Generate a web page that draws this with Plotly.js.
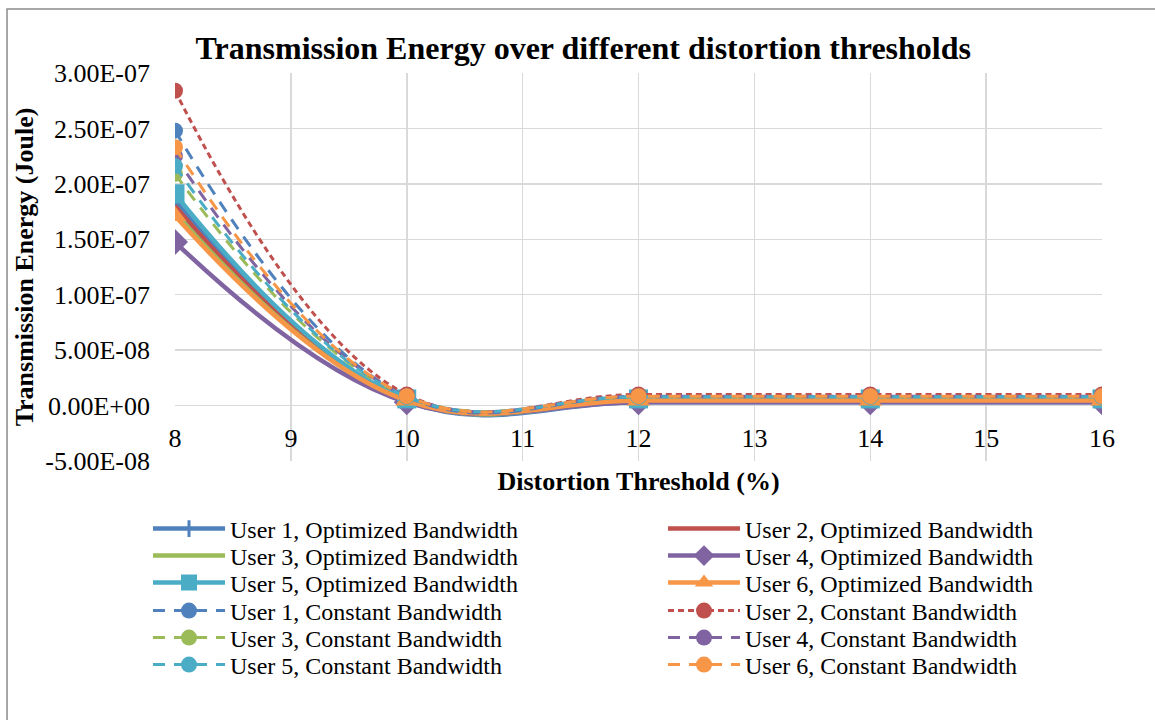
<!DOCTYPE html>
<html>
<head>
<meta charset="utf-8">
<script src="https://cdn.plot.ly/plotly-3.0.1.min.js"></script>
<style>
html,body{margin:0;padding:0;background:#fff;}
#chart{width:1155px;height:720px;}
</style>
</head>
<body>
<div id="chart"></div>
<script>
const thresholds = [8, 10, 12, 14, 16];

const user1Opt = [1.85e-7, 4.0e-9, 3.0e-9, 3.0e-9, 3.0e-9];
const user2Opt = [1.80e-7, 5.0e-9, 5.0e-9, 5.0e-9, 5.0e-9];
const user3Opt = [1.74e-7, 4.0e-9, 4.0e-9, 4.0e-9, 4.0e-9];
const user4Opt = [1.475e-7, 3.0e-9, 3.0e-9, 3.0e-9, 3.0e-9];
const user5Opt = [1.91e-7, 6.0e-9, 6.0e-9, 6.0e-9, 6.0e-9];
const user6Opt = [1.71e-7, 4.5e-9, 4.5e-9, 4.5e-9, 4.5e-9];

const user1Const = [2.48e-7, 8.0e-9, 8.0e-9, 8.0e-9, 8.0e-9];
const user2Const = [2.84e-7, 1.0e-8, 1.0e-8, 1.0e-8, 1.0e-8];
const user3Const = [2.09e-7, 8.0e-9, 8.0e-9, 8.0e-9, 8.0e-9];
const user4Const = [2.25e-7, 8.5e-9, 8.5e-9, 8.5e-9, 8.5e-9];
const user5Const = [2.16e-7, 8.0e-9, 8.0e-9, 8.0e-9, 8.0e-9];
const user6Const = [2.33e-7, 8.5e-9, 8.5e-9, 8.5e-9, 8.5e-9];

const yTickVals = [-5e-8, 0, 5e-8, 1e-7, 1.5e-7, 2e-7, 2.5e-7, 3e-7];
const yTickText = ["-5.00E-08","0.00E+00","5.00E-08","1.00E-07","1.50E-07","2.00E-07","2.50E-07","3.00E-07"];
const xTickVals = [8, 9, 10, 11, 12, 13, 14, 15, 16];
const xTickText = ['8','9','10','11','12','13','14','15','16'];

const C = {
  blue:'#4F81BD', red:'#C0504D', green:'#9BBB59',
  purple:'#8064A2', aqua:'#4BACC6', orange:'#F79646'
};

const SMOOTH = 1.15;

function opt(name, y, color, symbol, size, legend, lw) {
  const t = {
    x: thresholds, y: y, name: name, type:'scatter', legend: legend, legendwidth: lw,
    mode: symbol ? 'lines+markers' : 'lines',
    line:{color:color, width:4.5, shape:'spline', smoothing:SMOOTH}
  };
  if (symbol) {
    t.marker = {symbol:symbol, size:size, color:color, line:{color:color, width: symbol.indexOf('line')===0 ? 3 : 0}};
  }
  return t;
}
function cst(name, y, color, dash, legend, lw) {
  return {
    x: thresholds, y: y, name: name, type:'scatter', mode:'lines+markers', legend: legend, legendwidth: lw,
    line:{color:color, width:3, dash:dash, shape:'spline', smoothing:SMOOTH},
    marker:{symbol:'circle', size:16, color:color}
  };
}

const LW = 428, RW = 300;
const traces = [
  opt('User 1, Optimized Bandwidth', user1Opt, C.blue, 'line-ns', 12, 'legend', LW),
  opt('User 2, Optimized Bandwidth', user2Opt, C.red, null, 0, 'legend', RW),
  opt('User 3, Optimized Bandwidth', user3Opt, C.green, null, 0, 'legend2', LW),
  opt('User 4, Optimized Bandwidth', user4Opt, C.purple, 'diamond', 20, 'legend2', RW),
  opt('User 5, Optimized Bandwidth', user5Opt, C.aqua, 'square', 19, 'legend3', LW),
  opt('User 6, Optimized Bandwidth', user6Opt, C.orange, 'triangle-up', 20, 'legend3', RW),
  cst('User 1, Constant Bandwidth', user1Const, C.blue, '12px,9px', 'legend4', LW),
  cst('User 2, Constant Bandwidth', user2Const, C.red, '6px,4px', 'legend4', RW),
  cst('User 3, Constant Bandwidth', user3Const, C.green, '12px,9px', 'legend5', LW),
  cst('User 4, Constant Bandwidth', user4Const, C.purple, '12px,9px', 'legend5', RW),
  cst('User 5, Constant Bandwidth', user5Const, C.aqua, '12px,9px', 'legend6', LW),
  cst('User 6, Constant Bandwidth', user6Const, C.orange, '12px,9px', 'legend6', RW)
];

const serif = 'Liberation Serif, Times New Roman, serif';

// plot area in px: left 175, right 1102, top 73, bottom 461
const rowPx = [529, 556, 583, 611, 638, 665];
function legendAt(py) {
  return {
    orientation:'h', x:(148-175)/927, xanchor:'left', y:(461-py)/388, yanchor:'middle',
    itemwidth:72, font:{family:serif, size:24, color:'#000'}, bgcolor:'rgba(0,0,0,0)', borderwidth:0
  };
}

const layout = {
  width:1155, height:720,
  margin:{l:175, r:53, t:73, b:259},
  paper_bgcolor:'#fff', plot_bgcolor:'#fff',
  font:{family:serif, color:'#000', size:24},
  title:{text:'<b>Transmission Energy over different distortion thresholds</b>',
         font:{family:serif, size:32, color:'#000'}, x:0.505, xanchor:'center', y:0.933, yanchor:'middle'},
  xaxis:{
    range:[8,16], tickvals:xTickVals, ticktext:xTickText,
    showgrid:true, gridcolor:'#d9d9d9', gridwidth:1.5, zeroline:false, showline:false,
    anchor:'free', position:1/7, ticks:'', ticklabelstandoff:14,
    tickfont:{family:serif, size:26, color:'#000'},
    title:{text:'<b>Distortion Threshold (%)</b>', font:{family:serif, size:26, color:'#000'}, standoff:20}
  },
  yaxis:{
    range:[-5e-8, 3e-7], tickvals:yTickVals, ticktext:yTickText,
    showgrid:true, gridcolor:'#d9d9d9', gridwidth:1.5, zeroline:true, zerolinecolor:'#d9d9d9', zerolinewidth:1.5,
    showline:false, ticks:'', ticklabelstandoff:24,
    tickfont:{family:serif, size:26, color:'#000'},
    title:{text:'<b>Transmission Energy (Joule)</b>', font:{family:serif, size:26, color:'#000'}, standoff:4}
  },
  showlegend:true,
  legend: legendAt(rowPx[0]),
  legend2: legendAt(rowPx[1]),
  legend3: legendAt(rowPx[2]),
  legend4: legendAt(rowPx[3]),
  legend5: legendAt(rowPx[4]),
  legend6: legendAt(rowPx[5]),
  shapes:[{
    type:'rect', xref:'paper', yref:'paper',
    x0:-0.1812, x1:1.2, y0:-0.75, y1:1.165,
    line:{color:'#8c8c8c', width:1.5}, fillcolor:'rgba(0,0,0,0)', layer:'below'
  }]
};

Plotly.newPlot('chart', traces, layout, {displayModeBar:false, staticPlot:true});
</script>
</body>
</html>
